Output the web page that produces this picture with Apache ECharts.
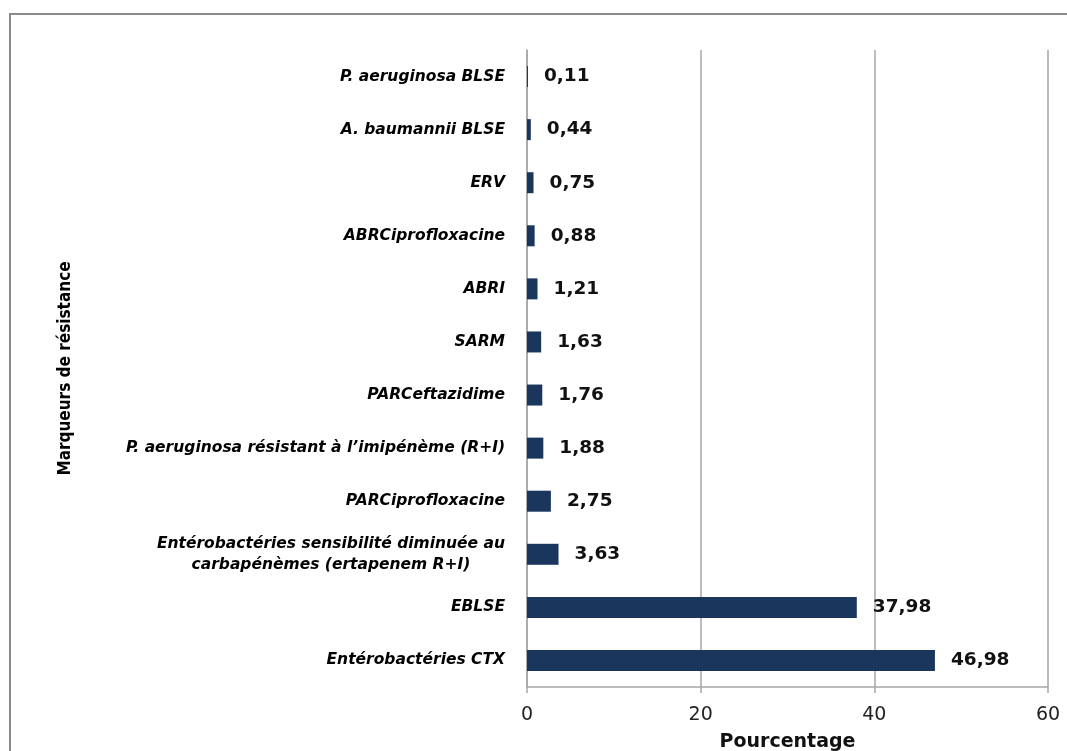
<!DOCTYPE html>
<html>
<head>
<meta charset="utf-8">
<script src="https://cdn.jsdelivr.net/npm/echarts@6/dist/echarts.min.js"></script>
<style>
  html, body { margin: 0; padding: 0; background: #fff; }
  #chart { width: 1067px; height: 751px; }
</style>
</head>
<body>
<div id="chart"></div>
<script>
// categories, bottom to top
var categories = [
    'Entérobactéries CTX',
    'EBLSE',
    'Entérobactéries sensibilité diminuée au\ncarbapénèmes (ertapenem R+I)',
    'PARCiprofloxacine',
    'P. aeruginosa résistant à l\u2019imipénème (R+I)',
    'PARCeftazidime',
    'SARM',
    'ABRI',
    'ABRCiprofloxacine',
    'ERV',
    'A. baumannii BLSE',
    'P. aeruginosa BLSE'
];
var values = [46.98, 37.98, 3.63, 2.75, 1.88, 1.76, 1.63, 1.21, 0.88, 0.75, 0.44, 0.11];
var xTicks = [0, 20, 40, 60];

var chart = echarts.init(document.getElementById('chart'));

var option = {
    animation: false,
    graphic: [{
        type: 'rect',
        shape: { x: 10, y: 14, width: 1100, height: 800 },
        style: { fill: 'none', stroke: '#8a8a8a', lineWidth: 2 }
    }],
    grid: {
        left: 527,
        right: 19,
        top: 50,
        bottom: 64,
        containLabel: false,
        outerBoundsMode: 'none'
    },
    xAxis: {
        type: 'value',
        min: xTicks[0],
        max: xTicks[xTicks.length - 1],
        interval: 20,
        name: 'Pourcentage',
        nameLocation: 'middle',
        nameGap: 46,
        nameTextStyle: {
            fontFamily: 'DejaVu Sans',
            fontWeight: 'bold',
            fontSize: 19,
            color: '#111'
        },
        axisLine: { show: true, lineStyle: { color: '#a6a6a6', width: 1.5 } },
        axisTick: { show: true, length: 6, lineStyle: { color: '#a6a6a6', width: 1.5 } },
        axisLabel: {
            margin: 19,
            fontFamily: 'DejaVu Sans',
            fontSize: 19,
            color: '#222'
        },
        splitLine: { show: true, lineStyle: { color: '#a6a6a6', width: 1.5 } }
    },
    yAxis: {
        type: 'category',
        data: categories,
        name: 'Marqueurs de résistance',
        nameLocation: 'middle',
        nameGap: 453,
        nameRotate: 90,
        nameTextStyle: {
            fontFamily: "'DejaVu Sans Condensed', 'Liberation Sans', sans-serif",
            fontWeight: 'bold',
            fontSize: 17,
            color: '#000'
        },
        axisLine: { show: true, lineStyle: { color: '#a6a6a6', width: 1.5 } },
        axisTick: { show: false },
        axisLabel: {
            margin: 22,
            formatter: function (v) {
                return v.split('\n').map(function (s) { return '{c|' + s + '}'; }).join('\n');
            },
            rich: {
                c: {
                    align: 'center',
                    fontFamily: 'DejaVu Sans',
                    fontStyle: 'italic',
                    fontWeight: 'bold',
                    fontSize: 15.5,
                    lineHeight: 21,
                    color: '#000'
                }
            }
        }
    },
    series: [{
        type: 'bar',
        data: values,
        barWidth: 21,
        itemStyle: { color: '#1b365d' },
        label: {
            show: true,
            position: 'right',
            distance: 16,
            fontFamily: 'DejaVu Sans',
            fontWeight: 'bold',
            fontSize: 18.5,
            color: '#111',
            formatter: function (p) {
                return p.value.toFixed(2).replace('.', ',');
            }
        }
    }]
};

chart.setOption(option);
</script>
</body>
</html>
